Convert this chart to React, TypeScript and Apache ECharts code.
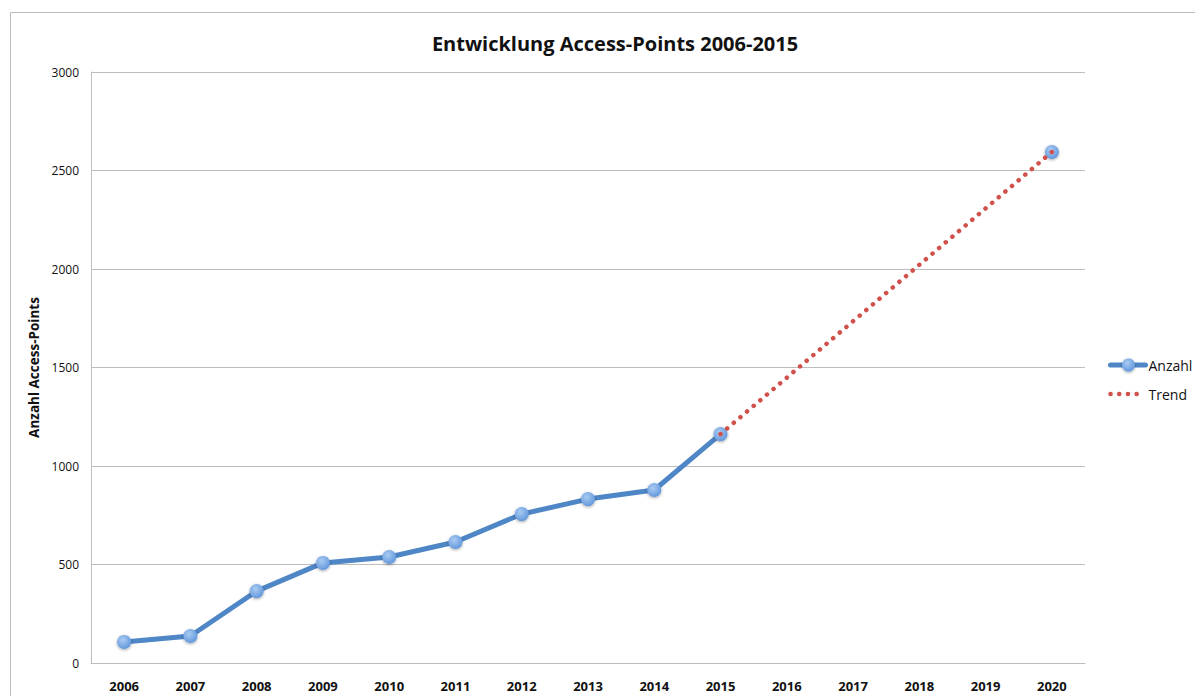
import React, { useEffect, useRef } from "react";
import * as echarts from "echarts";

const years = ["2006", "2007", "2008", "2009", "2010", "2011", "2012", "2013", "2014", "2015", "2016", "2017", "2018", "2019", "2020"];
const anzahl = [107, 137, 365, 508, 538, 614, 756, 832, 878, 1162, null, null, null, null, 2594];
const trend = [null, null, null, null, null, null, null, null, null, 1162, null, null, null, null, 2594];
const seriesNames = ["Anzahl", "Trend"];

export default function App() {
  const ref = useRef<HTMLDivElement>(null);
  useEffect(() => {
    document.body.style.margin = "0";
    const chart = echarts.init(ref.current!, null, { renderer: "svg" });
    const font = "'Open Sans', 'Noto Sans', sans-serif";
    const blue = "#4f86c6";
    const red = "#d0504b";
    const markerFill = new echarts.graphic.RadialGradient(0.4, 0.35, 0.7, [
      { offset: 0, color: "#a9cbf2" },
      { offset: 1, color: "#5f95dc" },
    ]);
    chart.setOption({
      animation: false,
      backgroundColor: "#ffffff",
      textStyle: { fontFamily: font },
      title: {
        text: "Entwicklung Access-Points 2006-2015",
        left: 610,
        textAlign: "center",
        top: 28,
        textStyle: { fontSize: 20, fontWeight: "bold", color: "#111", fontFamily: font },
      },
      graphic: [
        {
          type: "rect",
          shape: { x: 10.5, y: 12.5, width: 1400, height: 900 },
          style: { fill: "none", stroke: "#bdbdbd", lineWidth: 1 },
          silent: true,
          z: -1,
        },
        {
          type: "group",
          left: 1108,
          top: 358,
          children: [
            { type: "line", shape: { x1: 2, y1: 10, x2: 37, y2: 10 }, style: { stroke: blue, lineWidth: 5, lineCap: "round" } },
            { type: "circle", shape: { cx: 20, cy: 10, r: 6.5 }, style: { fill: markerFill, shadowBlur: 3, shadowColor: "rgba(0,0,0,0.35)", shadowOffsetY: 1 } },
            { type: "text", x: 40, y: 10, style: { text: seriesNames[0], fontSize: 14, fill: "#111", fontFamily: font, verticalAlign: "middle" } },
            { type: "line", shape: { x1: 2, y1: 39, x2: 35, y2: 39 }, style: { stroke: red, lineWidth: 4.5, lineCap: "round", lineDash: [0.1, 8.6] } },
            { type: "text", x: 40, y: 39, style: { text: seriesNames[1], fontSize: 14, fill: "#111", fontFamily: font, verticalAlign: "middle" } },
          ],
        },
      ],
      legend: { show: false },
      grid: { left: 91, top: 72, right: 110, bottom: 33, containLabel: false },
      xAxis: {
        type: "category",
        data: years,
        boundaryGap: true,
        axisLine: { lineStyle: { color: "#bdbdbd", width: 1 } },
        axisTick: { show: false },
        axisLabel: { fontSize: 13, fontWeight: "bold", color: "#111", margin: 16, fontFamily: font },
      },
      yAxis: {
        type: "value",
        min: 0,
        max: 3000,
        interval: 500,
        name: "Anzahl Access-Points",
        nameLocation: "middle",
        nameGap: 44,
        nameTextStyle: { fontSize: 13.5, fontWeight: "bold", color: "#111", fontFamily: font },
        axisLine: { show: true, lineStyle: { color: "#bdbdbd", width: 1 } },
        axisTick: { show: false },
        axisLabel: { fontSize: 12, color: "#111", margin: 12, fontFamily: font, formatter: (v: number) => String(v) },
        splitLine: { lineStyle: { color: "#bdbdbd", width: 1 } },
      },
      series: [
        {
          name: seriesNames[0],
          type: "line",
          data: anzahl,
          connectNulls: false,
          symbol: "circle",
          symbolSize: 14,
          lineStyle: { color: blue, width: 5 },
          itemStyle: {
            color: markerFill,
            borderWidth: 0,
            shadowBlur: 3,
            shadowColor: "rgba(0,0,0,0.35)",
            shadowOffsetY: 1,
          },
          z: 2,
        },
        {
          name: seriesNames[1],
          type: "line",
          data: trend,
          connectNulls: true,
          symbol: "none",
          lineStyle: { color: red, width: 4.5, type: [0.1, 8.6], cap: "round" },
          itemStyle: { color: red },
          z: 3,
        },
      ],
    });
    return () => chart.dispose();
  }, []);
  return <div ref={ref} style={{ width: 1195, height: 696 }} />;
}
